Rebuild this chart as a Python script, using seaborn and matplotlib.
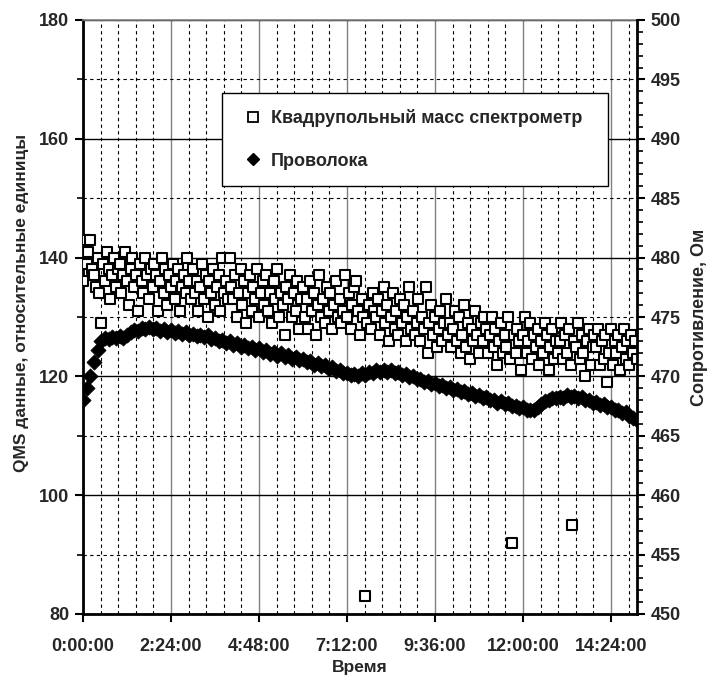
import numpy as np
import pandas as pd
import matplotlib
matplotlib.use("Agg")
import matplotlib.pyplot as plt
from matplotlib.ticker import MultipleLocator, FuncFormatter
from matplotlib.lines import Line2D
import seaborn as sns

# QMS signal, relative units, one reading every 3 minutes (20 per hour)
qms_step_h = 0.05
qms_values = [
    136, 143, 139, 141, 143, 138, 137, 135, 140, 134, 129, 139, 136, 141, 138, 133, 137, 140, 135, 138,
    139, 134, 137, 141, 136, 132, 138, 140, 135, 137, 131, 139, 136, 134, 140, 137, 133, 138, 135, 139,
    137, 131, 136, 140, 134, 138, 132, 137, 135, 139, 133, 136, 138, 131, 135, 137, 134, 140, 136, 133,
    138, 134, 136, 131, 135, 139, 133, 137, 130, 136, 134, 138, 132, 135, 137, 131, 140, 134, 136, 133,
    140, 135, 133, 137, 130, 134, 138, 132, 136, 129, 134, 137, 131, 135, 133, 138, 130, 134, 136, 132,
    137, 131, 134, 129, 136, 133, 138, 130, 134, 132, 127, 135, 133, 137, 130, 134, 131, 136, 128, 133,
    135, 130, 133, 128, 136, 131, 134, 127, 132, 137, 130, 133, 129, 135, 131, 134, 128, 132, 136, 130,
    133, 129, 131, 137, 130, 134, 128, 132, 135, 136, 131, 127, 133, 130, 83, 129, 132, 128, 134, 131,
    130, 133, 127, 131, 135, 129, 132, 126, 130, 134, 128, 131, 127, 133, 129, 132, 126, 130, 135, 128,
    131, 127, 129, 133, 126, 130, 128, 135, 124, 129, 132, 127, 130, 125, 128, 131, 126, 129, 133, 127,
    129, 125, 128, 131, 126, 130, 124, 127, 132, 125, 129, 123, 128, 126, 131, 127, 124, 129, 126, 130,
    128, 124, 127, 130, 125, 128, 122, 126, 129, 124, 127, 125, 130, 123, 92, 127, 124, 128, 126, 121,
    127, 130, 124, 126, 129, 123, 127, 125, 128, 122, 126, 124, 129, 127, 121, 125, 128, 123, 126, 124,
    126, 129, 123, 127, 124, 128, 122, 95, 126, 125, 129, 123, 127, 124, 120, 126, 128, 122, 125, 127,
    125, 128, 122, 126, 123, 127, 119, 124, 128, 122, 126, 124, 127, 121, 125, 128, 123, 126, 122, 127,
    124, 126, 123,
]

# wire resistance, Ohm, one reading every 6 minutes
wire_step_h = 0.1
wire_values = [
    468.0, 469.0, 470.0, 471.25, 472.25, 473.0, 473.25, 473.15, 473.3, 473.2,
    473.4, 473.25, 473.5, 473.7, 473.9, 473.8, 474.1, 474.0, 474.15, 473.95,
    474.05, 473.85, 473.95, 473.75, 473.9, 473.65, 473.8, 473.6, 473.7, 473.45,
    473.6, 473.4, 473.5, 473.3, 473.45, 473.15, 473.25, 473.0, 473.1, 472.8,
    472.95, 472.65, 472.8, 472.5, 472.65, 472.35, 472.45, 472.2, 472.35, 472.05,
    472.2, 471.9, 472.05, 471.75, 471.95, 471.6, 471.8, 471.5, 471.65, 471.35,
    471.5, 471.2, 471.3, 471.0, 471.15, 470.85, 470.95, 470.65, 470.75, 470.45,
    470.5, 470.25, 470.3, 470.1, 470.2, 470.0, 470.25, 470.15, 470.4, 470.3,
    470.5, 470.35, 470.55, 470.4, 470.5, 470.3, 470.4, 470.15, 470.2, 469.95,
    470.0, 469.75, 469.8, 469.55, 469.65, 469.4, 469.45, 469.2, 469.3, 469.05,
    469.1, 468.85, 468.95, 468.7, 468.75, 468.5, 468.6, 468.35, 468.4, 468.15,
    468.25, 468.0, 468.05, 467.8, 467.9, 467.65, 467.75, 467.5, 467.55, 467.3,
    467.4, 467.15, 467.2, 467.15, 467.4, 467.65, 467.9, 468.0, 468.2, 468.15,
    468.3, 468.2, 468.4, 468.25, 468.35, 468.15, 468.25, 468.0, 468.05, 467.8,
    467.85, 467.6, 467.65, 467.4, 467.45, 467.15, 467.2, 466.9, 467.0, 466.7,
    466.5, 466.3,
]

qms = pd.DataFrame({"t": np.arange(len(qms_values)) * qms_step_h, "v": qms_values})
wire = pd.DataFrame({"t": np.arange(len(wire_values)) * wire_step_h, "v": wire_values})

sns.set_theme(style="white")
plt.rcParams['font.family'] = ['Liberation Sans', 'DejaVu Sans']
plt.rcParams['font.weight'] = 'bold'

fig = plt.figure(figsize=(7.11, 6.83), dpi=100)
ax = fig.add_axes([83/711, 1 - 614/683, (637-83)/711, (614-20)/683])
ax2 = ax.twinx()

# grid
ax.set_xlim(0, 15.11)
ax.set_ylim(80, 180)
ax2.set_ylim(450, 500)
ax.xaxis.set_major_locator(MultipleLocator(2.4))
ax.xaxis.set_minor_locator(MultipleLocator(0.48))
ax.yaxis.set_major_locator(MultipleLocator(20))
ax.yaxis.set_minor_locator(MultipleLocator(10))
ax2.yaxis.set_major_locator(MultipleLocator(5))
ax2.yaxis.set_minor_locator(MultipleLocator(1))

ax.grid(which='major', axis='x', color='#808080', lw=1.0, ls='-')
ax.grid(which='minor', axis='x', color='black', lw=0.8, ls=(0, (3, 3)))
ax.grid(which='major', axis='y', color='black', lw=1.0, ls='-')
ax.grid(which='minor', axis='y', color='black', lw=0.8, ls=(0, (3, 3)))
ax.set_axisbelow(True)

sns.scatterplot(data=qms, x='t', y='v', ax=ax, marker='s', s=55,
                color='white', edgecolor='black', linewidth=1.5, zorder=3)
sns.scatterplot(data=wire, x='t', y='v', ax=ax2, marker='D', s=60,
                color='black', edgecolor='black', linewidth=0.5, zorder=3)

def fmt_time(h, pos):
    m = int(round(h * 60))
    return f"{m // 60}:{m % 60:02d}:00"

ax.xaxis.set_major_formatter(FuncFormatter(fmt_time))

for a in (ax, ax2):
    for s in a.spines.values():
        s.set_visible(False)
ax.spines['left'].set_visible(True)
ax.spines['bottom'].set_visible(True)
ax2.spines['right'].set_visible(True)
ax.spines['top'].set_visible(True)
ax.spines['top'].set_color('#808080')
ax.spines['top'].set_linewidth(1.2)
for s in (ax.spines['left'], ax.spines['bottom'], ax2.spines['right']):
    s.set_color('black')
    s.set_linewidth(2)

ax.tick_params(axis='x', which='major', direction='out', length=6, width=1.5,
               color='black', labelsize=13, pad=11, bottom=True)
ax.tick_params(axis='x', which='minor', bottom=False)
ax.tick_params(axis='y', which='major', direction='out', length=6, width=1.5,
               color='black', labelsize=13, pad=4, left=True)
ax.tick_params(axis='y', which='minor', direction='out', length=4, width=1.2,
               color='black', left=True)
ax2.tick_params(axis='y', which='major', direction='out', length=6, width=1.5,
                color='black', labelsize=13, pad=4, right=True)
ax2.tick_params(axis='y', which='minor', direction='out', length=4, width=1.2,
                color='black', right=True)
for lab in ax.get_xticklabels() + ax.get_yticklabels() + ax2.get_yticklabels():
    lab.set_fontweight('bold')

ax.set_xlabel('Время', fontsize=12.5, fontweight='bold', labelpad=4)
ax.set_ylabel('QMS данные, относительные единицы', fontsize=12.5, fontweight='bold')
ax.yaxis.set_label_coords(-0.098, 0.524)
ax2.set_ylabel('Сопротивление, Ом', fontsize=13, fontweight='bold', labelpad=7)

handles = [
    Line2D([], [], ls='none', marker='s', markersize=7.5, markerfacecolor='white',
           markeredgecolor='black', markeredgewidth=1.3),
    Line2D([], [], ls='none', marker='D', markersize=6.5, color='black'),
]
labels = ['Квадрупольный масс спектрометр', 'Проволока']
leg = ax2.legend(handles, labels, loc='upper left',
                 bbox_to_anchor=(222/711, 1 - 93/683, (608-222)/711, 0.0),
                 bbox_transform=fig.transFigure, mode='expand', borderaxespad=0,
                 prop={'size': 13, 'weight': 'bold'}, frameon=True, fancybox=False,
                 edgecolor='black', borderpad=0.9, labelspacing=1.4,
                 handlelength=1.6, handletextpad=0.2)
leg.get_frame().set_linewidth(1.0)
leg.get_frame().set_facecolor('white')
leg.get_frame().set_alpha(1.0)

fig.savefig('out.png', dpi=100, facecolor='white')
